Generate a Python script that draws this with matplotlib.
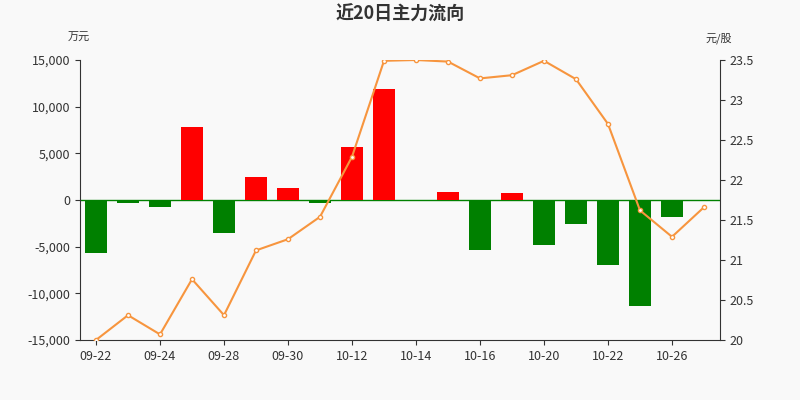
import numpy as np
import matplotlib.pyplot as plt

plt.rcParams['font.family'] = ['Noto Sans CJK SC', 'DejaVu Sans']

dates = ['09-22', '09-23', '09-24', '09-25', '09-28', '09-29', '09-30', '10-09', '10-12', '10-13',
         '10-14', '10-15', '10-16', '10-19', '10-20', '10-21', '10-22', '10-23', '10-26', '10-27']
flow = [-5700, -300, -800, 7800, -3500, 2500, 1300, -300, 5700, 11900,
        -100, 900, -5400, 800, -4800, -2600, -7000, -11400, -1800, -50]
price = [20.00, 20.31, 20.07, 20.76, 20.31, 21.12, 21.26, 21.54, 22.29, 23.49,
         23.50, 23.48, 23.27, 23.31, 23.49, 23.26, 22.70, 21.62, 21.29, 21.66]

bg = '#f9f9f9'
fig = plt.figure(figsize=(8, 4), dpi=100, facecolor=bg)
ax = fig.add_axes([0.1, 0.15, 0.8, 0.7], facecolor=bg)
x = np.arange(len(dates))
colors = ['#ff0000' if v >= 0 else '#008000' for v in flow]
ax.bar(x, flow, width=0.7, color=colors, zorder=2)
ax.axhline(0, color='#008000', lw=1, zorder=1)
ax.set_xlim(-0.5, len(dates) - 0.5)
ax.set_ylim(-15000, 15000)
ax.set_yticks(np.arange(-15000, 15001, 5000))
ax.set_yticklabels([f'{v:,}' for v in range(-15000, 15001, 5000)])
ax.set_xticks(x[::2])
ax.set_xticklabels(['09-22', '09-24', '09-28', '09-30', '10-12', '10-14', '10-16', '10-20', '10-22', '10-26'])
for s in ['top', 'right']:
    ax.spines[s].set_visible(False)
for s in ['left', 'bottom']:
    ax.spines[s].set_color('#333333')
ax.tick_params(labelsize=9, colors='#333333')

ax2 = ax.twinx()
ax2.plot(x, price, color='#f7953e', lw=1.5, marker='o', ms=3,
         markerfacecolor='white', markeredgecolor='#f7953e', zorder=3)
ax2.set_ylim(20, 23.5)
ax2.set_yticks([20, 20.5, 21, 21.5, 22, 22.5, 23, 23.5])
ax2.set_yticklabels(['20', '20.5', '21', '21.5', '22', '22.5', '23', '23.5'])
for s in ['top', 'left', 'bottom']:
    ax2.spines[s].set_visible(False)
ax2.spines['right'].set_color('#333333')
ax2.tick_params(labelsize=9, colors='#333333')

fig.text(0.5, 0.965, '近20日主力流向', ha='center', va='center', fontsize=13, fontweight='bold', color='#333333')
fig.text(0.085, 0.905, '万元', ha='left', va='center', fontsize=8, color='#333333')
fig.text(0.915, 0.905, '元/股', ha='right', va='center', fontsize=8, color='#333333')

fig.savefig('out.png', dpi=100, facecolor=bg)
